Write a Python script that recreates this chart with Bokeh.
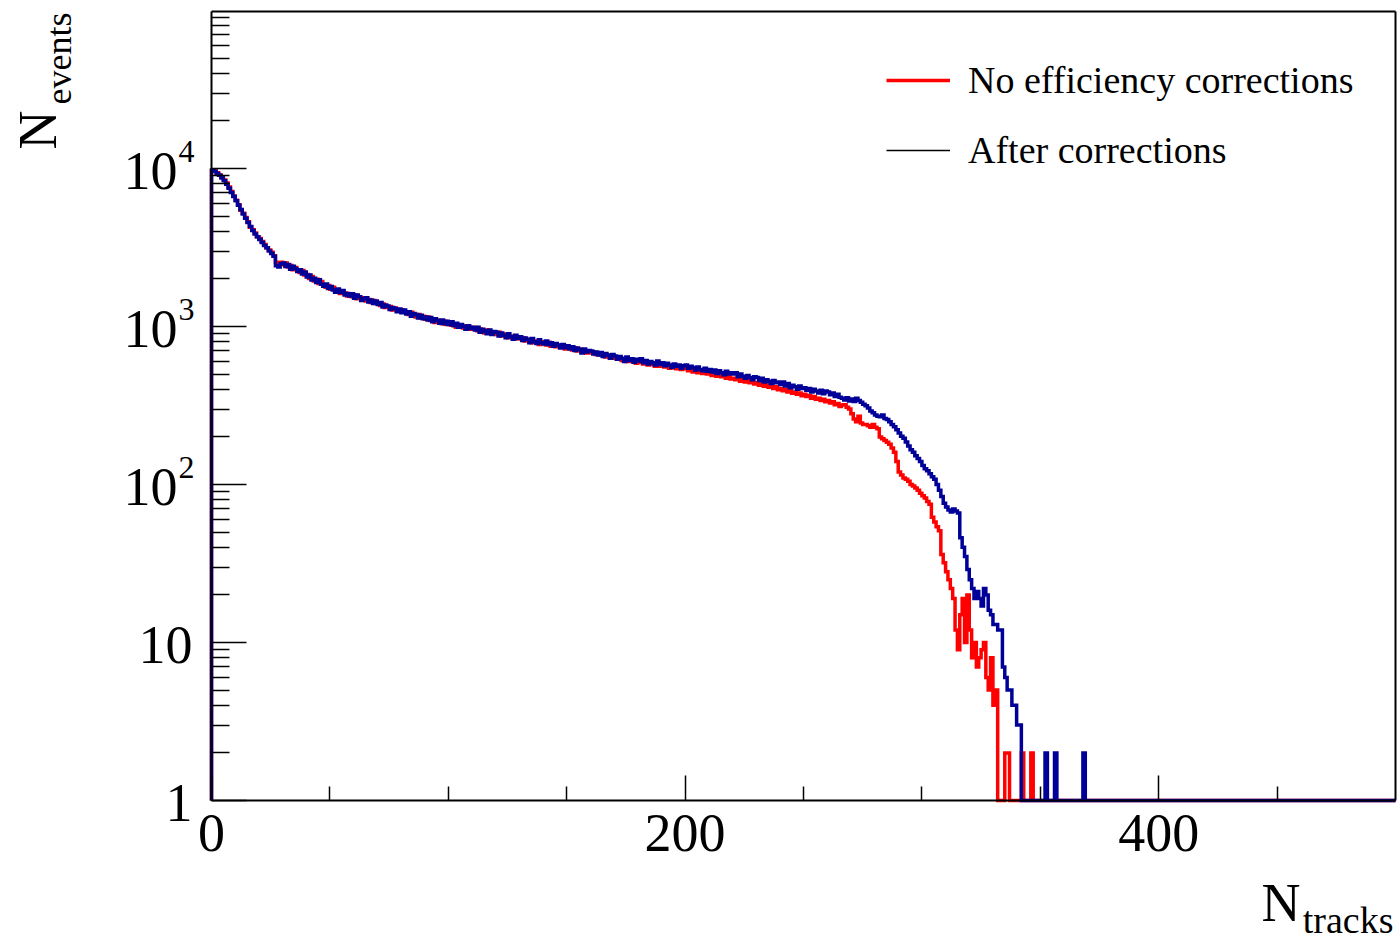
import numpy as np
from bokeh.plotting import figure
from bokeh.models import (Range1d, FixedTicker, Label, Legend, LegendItem,
                          LinearAxis, LogAxis, LogScale)
from bokeh.embed import file_html
from bokeh.resources import INLINE

# ---------------- data ----------------
x_start, x_end = 0, 500          # histogram range
y_start, y_end = 1, 98550        # y axis range (log)
n_bins = 500

# "After corrections" counts, bins 0..341 (bin width 1)
after_corr = [
    9800, 9600, 9300, 9050, 8700, 8350, 7950, 7500, 7050, 6650,
    6250, 5850, 5500, 5150, 4850, 4550, 4300, 4050, 3850, 3700,
    3550, 3400, 3250, 3150, 3000, 2900, 2780, 2420, 2380, 2500,
    2520, 2400, 2470, 2300, 2410, 2330, 2230, 2290, 2150, 2210,
    2060, 2120, 1970, 2020, 1900, 1980, 1850, 1800, 1860, 1740,
    1790, 1700, 1650, 1730, 1640, 1690, 1580, 1620, 1560, 1610,
    1510, 1580, 1540, 1460, 1500, 1520, 1430, 1470, 1400, 1450,
    1380, 1420, 1330, 1370, 1350, 1280, 1320, 1300, 1240, 1290,
    1220, 1270, 1200, 1240, 1160, 1210, 1190, 1130, 1180, 1120,
    1150, 1100, 1140, 1070, 1120, 1090, 1050, 1100, 1040, 1080,
    1030, 1070, 1010, 1050, 990, 1030, 1000, 960, 1010, 970,
    990, 950, 990, 920, 960, 935, 900, 950, 890, 930,
    920, 870, 910, 880, 850, 900, 860, 830, 880, 840,
    860, 815, 845, 830, 790, 840, 800, 780, 825, 790,
    775, 810, 770, 790, 750, 780, 765, 730, 770, 735,
    755, 720, 745, 705, 730, 715, 680, 720, 690, 705,
    700, 670, 690, 660, 685, 645, 675, 660, 630, 665,
    650, 620, 645, 630, 600, 640, 610, 625, 595, 620,
    605, 625, 590, 610, 580, 600, 590, 570, 605, 575,
    590, 565, 585, 570, 550, 580, 560, 570, 545, 565,
    570, 545, 560, 550, 530, 555, 535, 525, 545, 520,
    535, 515, 530, 505, 525, 510, 495, 520, 500, 510,
    500, 510, 480, 500, 485, 470, 490, 475, 460, 480,
    475, 455, 470, 445, 460, 450, 435, 455, 440, 445,
    430, 445, 420, 435, 410, 425, 415, 400, 420, 405,
    410, 395, 405, 385, 400, 390, 380, 395, 375, 390,
    385, 370, 380, 360, 372, 356, 352, 342, 354, 338,
    348, 335, 352, 340, 332, 322, 315, 305, 292, 285,
    275, 270, 268, 275, 262, 258, 250, 240, 232, 222,
    212, 202, 196, 186, 175, 166, 160, 152, 146, 140,
    132, 126, 122, 117, 112, 108, 100, 92, 84, 76,
    72, 69, 67, 70, 68, 66, 46, 40, 35, 29,
    25, 22, 19, 21, 19, 17, 22, 20, 16, 15,
    13, 13, 12, 12, 7, 6, 5, 5, 4, 4, 3, 3,
]
after_spike_bins = [352, 356, 368]
after_spike_counts = [2, 2, 2]

# "No efficiency corrections" counts, bins 0..331
no_corr = [
    9700, 9650, 9400, 9100, 8800, 8450, 8100, 7650, 7150, 6700,
    6300, 5900, 5450, 5200, 4900, 4600, 4250, 4100, 3900, 3700,
    3600, 3450, 3300, 3150, 3050, 2950, 2800, 2550, 2450, 2550,
    2460, 2520, 2380, 2430, 2290, 2360, 2270, 2200, 2260, 2120,
    2130, 2010, 2070, 1940, 1990, 1870, 1930, 1830, 1770, 1820,
    1720, 1770, 1680, 1700, 1620, 1660, 1630, 1560, 1600, 1540,
    1580, 1500, 1530, 1490, 1520, 1450, 1480, 1420, 1460, 1400,
    1410, 1360, 1390, 1320, 1330, 1340, 1270, 1310, 1280, 1250,
    1270, 1230, 1220, 1190, 1230, 1170, 1150, 1190, 1130, 1160,
    1110, 1150, 1090, 1110, 1060, 1100, 1070, 1040, 1080, 1030,
    1060, 1020, 1040, 990, 1020, 1000, 980, 1010, 960, 990,
    960, 985, 940, 965, 930, 910, 950, 905, 920, 900,
    890, 920, 870, 895, 880, 850, 870, 855, 835, 860,
    835, 850, 810, 825, 815, 790, 810, 795, 770, 800,
    790, 765, 795, 750, 770, 745, 760, 740, 750, 720,
    730, 745, 710, 730, 700, 720, 695, 705, 680, 700,
    680, 690, 665, 675, 660, 670, 640, 655, 645, 630,
    640, 620, 630, 610, 625, 600, 615, 600, 610, 585,
    595, 605, 580, 595, 570, 585, 575, 560, 580, 560,
    570, 555, 565, 545, 560, 550, 540, 555, 535, 545,
    540, 525, 535, 515, 530, 510, 520, 505, 515, 500,
    505, 490, 500, 485, 495, 480, 488, 470, 482, 465,
    470, 460, 468, 450, 462, 445, 455, 440, 450, 432,
    440, 425, 435, 418, 428, 412, 420, 405, 415, 398,
    405, 392, 400, 385, 392, 378, 385, 372, 380, 365,
    372, 360, 366, 352, 360, 346, 352, 340, 346, 334,
    340, 328, 334, 320, 326, 312, 318, 320, 308, 300,
    280, 260, 250, 270, 245, 240, 240, 235, 230, 240,
    230, 225, 200, 195, 190, 185, 180, 170, 160, 140,
    120, 115, 110, 108, 105, 100, 98, 95, 92, 88,
    85, 82, 78, 75, 62, 58, 54, 51, 36, 32,
    28, 25, 22, 19, 12, 9, 15, 19, 10, 20,
    12, 8, 10, 7, 8, 9, 10, 6, 5, 8, 4, 5,
]
no_corr_spike_bins = [335, 336, 342, 346]
no_corr_spike_counts = [2, 2, 2, 2]

series_labels = ["No efficiency corrections", "After corrections"]
x_major_ticks = [0, 200, 400]
x_major_labels = ["0", "200", "400"]
x_minor_ticks = [50, 100, 150, 250, 300, 350, 450]
y_major_ticks = [1, 10, 100, 1000, 10000]
y_tick_bases = ["1", "10", "10", "10", "10"]
y_tick_sups = ["", "", "2", "3", "4"]
y_minor_ticks = [m * 10 ** d for d in range(0, 5) for m in range(2, 10)]

RED = "#ff0000"
BLUE = "#000099"
FONT = "Liberation Serif"

# ---------------- page geometry (pixels) ----------------
W, H = 1400, 940
px_left, px_right, px_bottom = 211, 1395, 800
px_per_decade = 158.0
kx = (px_right - px_left) / (x_end - x_start)
view_x0 = x_start - px_left / kx
view_x1 = x_end + (W - px_right) / kx
view_y0 = 10 ** (-(H - px_bottom) / px_per_decade)
view_y1 = 10 ** (px_bottom / px_per_decade)


def step_coords(counts_list, spike_bins, spike_counts):
    counts = np.zeros(n_bins)
    counts[:len(counts_list)] = counts_list
    counts[spike_bins] = spike_counts
    shown = np.maximum(counts, y_start)
    edges = np.linspace(x_start, x_end, n_bins + 1)
    xs = np.concatenate([[edges[0]], np.repeat(edges, 2), [edges[-1]]])
    ys = np.concatenate([[y_start], [y_start], np.repeat(shown, 2), [y_start], [y_start]])
    return xs[1:-1], ys[1:-1]


p = figure(width=W, height=H, x_axis_location=None, y_axis_location=None,
           y_axis_type="log",
           x_range=Range1d(view_x0, view_x1), y_range=Range1d(view_y0, view_y1),
           output_backend="svg", toolbar_location=None, min_border=0)
p.y_scale = LogScale()
p.background_fill_color = "white"
p.border_fill_color = "white"
p.outline_line_color = None
p.grid.visible = False

xr, yr = step_coords(no_corr, no_corr_spike_bins, no_corr_spike_counts)
xb, yb = step_coords(after_corr, after_spike_bins, after_spike_counts)
r_red = p.line(xr, yr, line_color=RED, line_width=3.5, line_join="miter")
r_blue = p.line(xb, yb, line_color=BLUE, line_width=3.5, line_join="miter")
r_legend_black = p.line([np.nan, np.nan], [np.nan, np.nan], line_color="black", line_width=1.5)


def make_axis(cls, loc, bounds, ticks, minor, tick_in, minor_in):
    ax = cls(fixed_location=loc, bounds=bounds,
             ticker=FixedTicker(ticks=ticks, minor_ticks=minor))
    ax.major_tick_in = tick_in
    ax.major_tick_out = 0
    ax.minor_tick_in = minor_in
    ax.minor_tick_out = 0
    ax.axis_line_width = 2
    ax.axis_line_color = "black"
    ax.major_tick_line_width = 1.5
    ax.minor_tick_line_width = 1.5
    ax.major_label_text_font_size = "0px"
    ax.major_label_standoff = 0
    ax.major_label_overrides = {t: "" for t in ticks}
    if not ticks:
        ax.major_tick_line_color = None
        ax.minor_tick_line_color = None
    return ax


p.add_layout(make_axis(LinearAxis, y_start, (x_start, x_end), x_major_ticks,
                       x_minor_ticks, 25, 14), "below")
p.add_layout(make_axis(LogAxis, x_start, (y_start, y_end), y_major_ticks,
                       y_minor_ticks, 35, 18), "left")
p.add_layout(make_axis(LinearAxis, y_end, (x_start, x_end), [], [], 0, 0), "above")
p.add_layout(make_axis(LogAxis, x_end, (y_start, y_end), [], [], 0, 0), "right")

# x tick labels
for t, lab in zip(x_major_ticks, x_major_labels):
    p.add_layout(Label(x=t, y=y_start, text=lab, y_offset=-32,
                       text_align="center", text_baseline="alphabetic",
                       text_font=FONT, text_font_size="54px", text_color="black"))

# y tick labels with superscripts
for val, base, sup in zip(y_major_ticks, y_tick_bases, y_tick_sups):
    if sup:
        p.add_layout(Label(x=x_start, y=val, text=base, x_offset=-34, y_offset=-2,
                           text_align="right", text_baseline="alphabetic",
                           text_font=FONT, text_font_size="54px", text_color="black"))
        p.add_layout(Label(x=x_start, y=val, text=sup, x_offset=-33, y_offset=17,
                           text_align="left", text_baseline="alphabetic",
                           text_font=FONT, text_font_size="32px", text_color="black"))
    else:
        p.add_layout(Label(x=x_start, y=val, text=base, x_offset=-19, y_offset=-2,
                           text_align="right", text_baseline="alphabetic",
                           text_font=FONT, text_font_size="54px", text_color="black"))

# axis titles
p.add_layout(Label(x=x_start, y=y_end, text="N", x_offset=-174, y_offset=-138,
                   angle=np.pi / 2, text_align="left", text_baseline="alphabetic",
                   text_font=FONT, text_font_size="54px", text_color="black"))
p.add_layout(Label(x=x_start, y=y_end, text="events", x_offset=-153, y_offset=-93,
                   angle=np.pi / 2, text_align="left", text_baseline="alphabetic",
                   text_font=FONT, text_font_size="36px", text_color="black"))
p.add_layout(Label(x=x_end, y=y_start, text="tracks", x_offset=-2, y_offset=-119,
                   text_align="right", text_baseline="alphabetic",
                   text_font=FONT, text_font_size="38px", text_color="black"))
p.add_layout(Label(x=x_end, y=y_start, text="N", x_offset=-95, y_offset=-102,
                   text_align="right", text_baseline="alphabetic",
                   text_font=FONT, text_font_size="54px", text_color="black"))

legend = Legend(items=[LegendItem(label=series_labels[0], renderers=[r_red]),
                       LegendItem(label=series_labels[1], renderers=[r_legend_black])],
                location=(886, 755), orientation="vertical",
                border_line_alpha=0, background_fill_alpha=0,
                padding=0, margin=0, spacing=0,
                glyph_width=64, glyph_height=70, label_height=70,
                label_standoff=18, label_text_font=FONT, label_text_color="black",
                label_text_font_size="38px", label_text_baseline="middle")
p.add_layout(legend)

open("out.html", "w").write(file_html(p, INLINE))
